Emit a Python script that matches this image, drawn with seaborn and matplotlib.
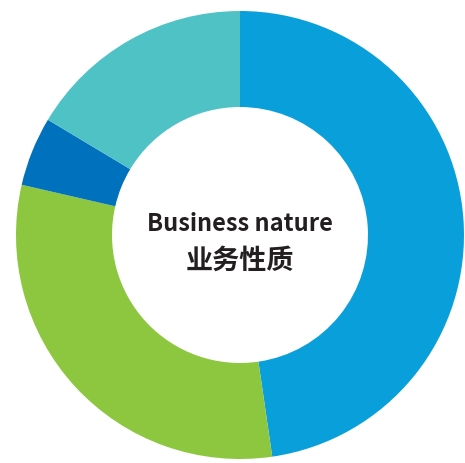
import seaborn as sns
import matplotlib.pyplot as plt

# share of each business nature (percent), clockwise from the top
categories = ['A', 'B', 'C', 'D']
shares = [47.7, 30.9, 5.0, 16.4]
colors = ['#089FDB', '#8DC63F', '#0071BC', '#4FC2C5']

sns.set_theme(style="white")
plt.rcParams['font.family'] = ['Noto Sans CJK SC', 'DejaVu Sans']

fig = plt.figure(figsize=(4.65, 4.64), dpi=100)
ax = fig.add_axes([0, 0, 1, 1])
ax.pie(shares, colors=sns.color_palette(colors), startangle=90, counterclock=False,
       radius=1, wedgeprops=dict(width=0.4286, edgecolor='none', linewidth=0))
ax.set_aspect('auto')
ax.set_xlim(-1.0714, 1.0045)
ax.set_ylim(-1.0179, 1.0536)
ax.axis('off')

ax.text(0, 0.055, 'Business nature', ha='center', va='center',
        fontsize=17, fontweight='bold', color='#231F20')
ax.text(0, -0.112, '业务性质', ha='center', va='center',
        fontsize=19.5, fontweight='bold', color='#231F20')

fig.savefig('out.png', dpi=100)
